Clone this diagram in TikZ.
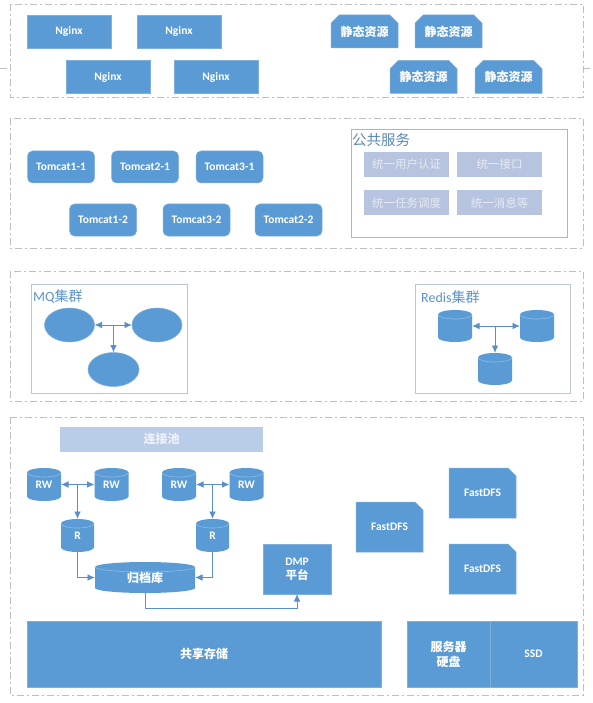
\documentclass[tikz,border=0pt]{standalone}
\usepackage{fontspec}
\setmainfont{Carlito}
\newfontfamily\cjk{Noto Sans CJK SC}
\usetikzlibrary{shapes.geometric,shapes.misc,arrows.meta,backgrounds}
\definecolor{boxblue}{HTML}{5B9BD5}
\definecolor{boxedge}{HTML}{7FB0DD}
\definecolor{panelgray}{HTML}{BFBFBF}
\definecolor{lightfill}{HTML}{B7C4DF}
\definecolor{lighttext}{HTML}{E6EAF2}
\definecolor{poolfill}{HTML}{B9CCE8}
\definecolor{pooltext}{HTML}{EEF2F8}
\definecolor{groupedge}{HTML}{BCC6D4}
\definecolor{svcedge}{HTML}{A9B7CC}
\definecolor{svctitle}{HTML}{5C88B6}
\definecolor{titleblue}{HTML}{5B93CC}
\definecolor{arrowblue}{HTML}{5A8FC8}
\definecolor{rimblue}{HTML}{8CBBE6}
\tikzset{
  panel/.style={draw=panelgray, line width=0.8pt, dash pattern=on 7pt off 3pt on 2pt off 3pt},
  bluebox/.style={rectangle, fill=boxblue, draw=boxedge, line width=0.5pt, text=white,
    inner sep=1pt, outer sep=0pt, align=center},
  latin/.style={font=\bfseries\fontsize{11.5}{15}\selectfont},
  zhbold/.style={font=\cjk\bfseries\fontsize{12}{15}\selectfont},
  nginxbox/.style={bluebox, latin, minimum width=84pt, minimum height=33pt},
  staticbox/.style={bluebox, zhbold, chamfered rectangle, chamfered rectangle corners={north west,north east},
    chamfered rectangle xsep=5pt, minimum width=67pt, minimum height=33pt},
  tomcatbox/.style={bluebox, latin, rounded corners=5pt, minimum width=67pt, minimum height=32pt},
  svcbox/.style={rectangle, fill=lightfill, draw=none, text=lighttext, font=\cjk\fontsize{11.5}{14}\selectfont,
    minimum width=85pt, minimum height=25pt, inner sep=1pt},
  groupbox/.style={rectangle, draw=groupedge, line width=0.8pt, fill=none, inner sep=0pt, outer sep=0pt},
  grouptitle/.style={anchor=west, inner sep=0pt, text=titleblue, font=\fontsize{14}{16}\selectfont},
  ellnode/.style={ellipse, fill=boxblue, draw=boxedge, line width=0.5pt, inner sep=0pt, outer sep=0pt},
  cylnode/.style={rectangle, draw=none, text=white, inner sep=0pt, outer sep=0pt, latin},
  fdfsbox/.style={bluebox, latin, chamfered rectangle, chamfered rectangle corners=north east,
    chamfered rectangle xsep=6pt, minimum width=67pt, minimum height=50pt},
  flow/.style={draw=arrowblue, line width=0.9pt, -{Latex[length=7.5pt,width=6.5pt]}},
  flowboth/.style={draw=arrowblue, line width=0.9pt, {Latex[length=7.5pt,width=6.5pt]}-{Latex[length=7.5pt,width=6.5pt]}},
}
\begin{document}
\begin{tikzpicture}[x=1pt, y=-1pt]
\useasboundingbox (0,0) rectangle (593,703);
\begin{pgfonlayer}{background}
\fill[white] (0,0) rectangle (593,703);
\end{pgfonlayer}

% panels
\draw[panel] (10,4) rectangle (583,97);
\draw[panel] (0,68) -- (10,68);
\draw[panel] (583,68) -- (593,68);
\draw[panel] (10,118) rectangle (583,248);
\draw[panel] (10,271) rectangle (583,401);
\draw[panel] (10,417) rectangle (583,695);

% layer 1: Nginx and static resources
\node[nginxbox] (ng1) at (69,31.5) {Nginx};
\node[nginxbox] (ng2) at (179,31.5) {Nginx};
\node[nginxbox] (ng3) at (108,77) {Nginx};
\node[nginxbox] (ng4) at (216,77) {Nginx};
\node[staticbox] (st1) at (364.5,31.5) {静态资源};
\node[staticbox] (st2) at (448.5,31.5) {静态资源};
\node[staticbox] (st3) at (423.5,77) {静态资源};
\node[staticbox] (st4) at (508.5,77) {静态资源};

% layer 2: Tomcat and public services
\node[tomcatbox] (t11) at (61,167) {Tomcat1-1};
\node[tomcatbox] (t21) at (145,167) {Tomcat2-1};
\node[tomcatbox] (t31) at (229.5,167) {Tomcat3-1};
\node[tomcatbox] (t12) at (103,220) {Tomcat1-2};
\node[tomcatbox] (t32) at (196.5,220) {Tomcat3-2};
\node[tomcatbox] (t22) at (288.5,220) {Tomcat2-2};
\node[rectangle, draw=svcedge, line width=0.8pt, minimum width=216pt, minimum height=108pt, inner sep=0pt] (svc) at (459,183) {};
\node[anchor=west, inner sep=0pt, text=svctitle, font=\cjk\fontsize{14.5}{16}\selectfont] (svct) at (352,140) {公共服务};
\node[svcbox] (sv1) at (406.5,164.5) {统一用户认证};
\node[svcbox] (sv2) at (499.5,164.5) {统一接口};
\node[svcbox] (sv3) at (406.5,203) {统一任务调度};
\node[svcbox] (sv4) at (499.5,203) {统一消息等};

% layer 3: MQ and Redis
\node[groupbox, minimum width=156pt, minimum height=109pt] (mq) at (109,338.5) {};
\node[grouptitle] (mqt) at (33,297) {MQ{\cjk 集群}};
\node[ellnode, minimum width=50pt, minimum height=34pt] (e1) at (69.5,325) {};
\node[ellnode, minimum width=50pt, minimum height=34pt] (e2) at (157,325) {};
\node[ellnode, minimum width=51pt, minimum height=34pt] (e3) at (113.5,369.5) {};
\draw[flowboth] (e1.east) -- (e2.west);
\draw[flow] (e3.north |- e1.east) -- (e3.north);

\node[groupbox, minimum width=155pt, minimum height=109pt] (rd) at (492.5,338.5) {};
\node[grouptitle] (rdt) at (421,297) {Redis{\cjk 集群}};
\node[cylnode, minimum width=34pt, minimum height=32pt] (c1) at (455,326) {};
\node[cylnode, minimum width=34pt, minimum height=32pt] (c2) at (537,326) {};
\node[cylnode, minimum width=34pt, minimum height=32pt] (c3) at (495,369) {};
\draw[flowboth] (c1.east) -- (c2.west);
\draw[flow] (c3.north |- c1.east) -- (c3.north);

% layer 4: data
\node[rectangle, fill=poolfill, text=pooltext, font=\cjk\bfseries\fontsize{12}{14}\selectfont,
  minimum width=203pt, minimum height=25pt, inner sep=0pt] (pool) at (161.5,439.5) {连接池};
\node[cylnode, minimum width=34pt, minimum height=33pt] (rw1) at (44,484.5) {RW};
\node[cylnode, minimum width=34pt, minimum height=33pt] (rw2) at (111.5,484.5) {RW};
\node[cylnode, minimum width=34pt, minimum height=33pt] (rw3) at (179,484.5) {RW};
\node[cylnode, minimum width=34pt, minimum height=33pt] (rw4) at (246.5,484.5) {RW};
\node[cylnode, minimum width=33pt, minimum height=33pt] (r1) at (77.5,535.5) {R};
\node[cylnode, minimum width=33pt, minimum height=33pt] (r2) at (212.5,535.5) {R};
\node[cylnode, zhbold, minimum width=100pt, minimum height=31pt] (arch) at (145,577.5) {归档库};
\node[bluebox, latin, minimum width=68pt, minimum height=50pt] (dmp) at (297,569) {DMP\\[-1pt]{\cjk\bfseries 平台}};
\node[fdfsbox] (f1) at (389.5,527) {FastDFS};
\node[fdfsbox] (f2) at (482.5,493) {FastDFS};
\node[fdfsbox] (f3) at (482.5,569) {FastDFS};
\node[bluebox, zhbold, minimum width=354pt, minimum height=66pt] (share) at (204,654) {共享存储};
\node[bluebox, zhbold, minimum width=83pt, minimum height=66pt] (disk) at (448.5,654) {服务器\\硬盘};
\node[bluebox, latin, minimum width=87pt, minimum height=66pt] (ssd) at (533.5,654) {SSD};

\draw[flowboth] (rw1.east) -- (rw2.west);
\draw[flow] (r1.north |- rw1.east) -- (r1.north);
\draw[flowboth] (rw3.east) -- (rw4.west);
\draw[flow] (r2.north |- rw3.east) -- (r2.north);
\draw[flow] (r1.south) |- (arch.west);
\draw[flow] (r2.south) |- (arch.east);
\draw[flow] (arch.south) -- ++(0,15) -| (dmp.south);

% cylinder bodies drawn behind their labels
\begin{pgfonlayer}{background}
\foreach \n/\r/\e in {c1/17/4.5, c2/17/4.5, c3/17/4.5, rw1/17/4.5, rw2/17/4.5, rw3/17/4.5, rw4/17/4.5,
    r1/16.5/4.5, r2/16.5/4.5, arch/50/5}{
  \fill[boxblue] ([yshift=-\e pt]\n.north west) -- ([yshift=\e pt]\n.south west)
    arc[start angle=180, end angle=360, x radius=\r pt, y radius=\e pt]
    -- ([yshift=-\e pt]\n.north east)
    arc[start angle=0, end angle=180, x radius=\r pt, y radius=\e pt] -- cycle;
  \draw[rimblue, line width=0.6pt] ([yshift=-\e pt]\n.north west)
    arc[start angle=180, end angle=360, x radius=\r pt, y radius=\e pt];
}
\end{pgfonlayer}
\end{tikzpicture}
\end{document}
